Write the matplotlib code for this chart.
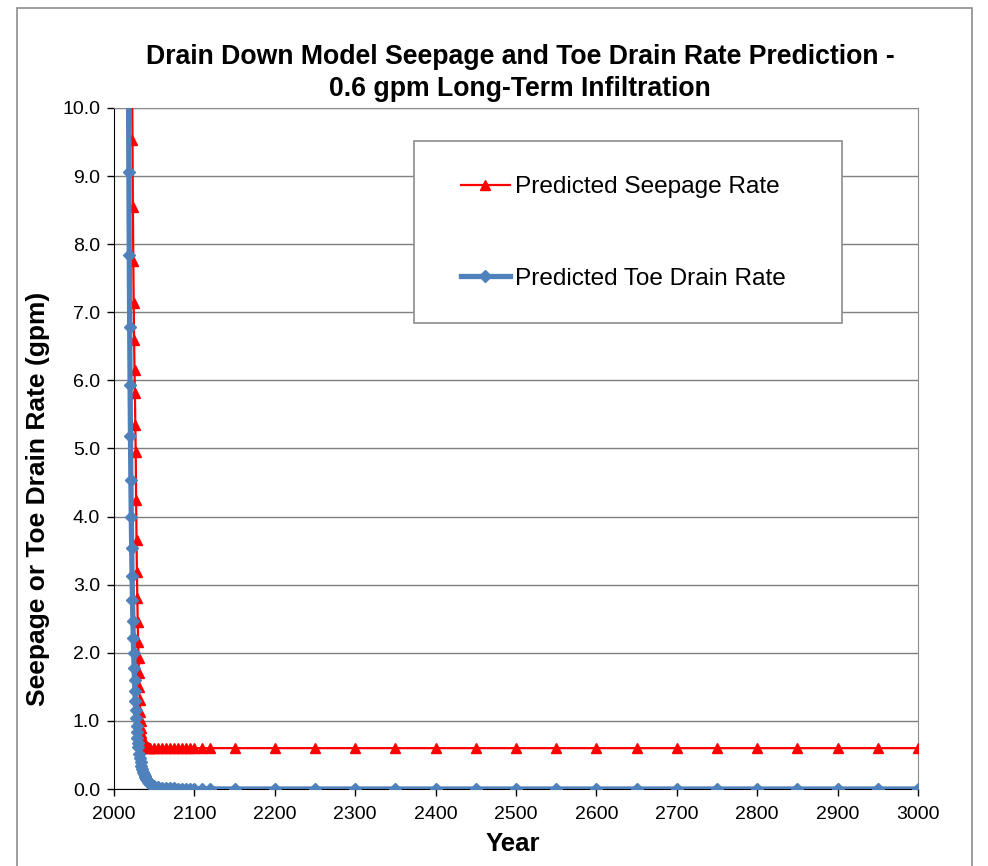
import numpy as np
import matplotlib
matplotlib.use("Agg")
import matplotlib.pyplot as plt
from matplotlib.patches import Rectangle
from matplotlib.ticker import MultipleLocator, FormatStrFormatter

plt.rcParams['font.family'] = ['Liberation Sans', 'DejaVu Sans']

# long-term tail shared by both series (every 50 years)
tail_years = [2150, 2200, 2250, 2300, 2350, 2400, 2450, 2500, 2550, 2600, 2650,
              2700, 2750, 2800, 2850, 2900, 2950, 3000]

# Predicted toe drain rate (gpm)
toe_years = [2018.0, 2018.5, 2019.0, 2019.5, 2020.0, 2020.5, 2021.0, 2021.5,
             2022.0, 2022.5, 2023.0, 2023.5, 2024.0, 2024.5, 2025.0, 2025.5,
             2026.0, 2026.5, 2027.0, 2027.5, 2028.0, 2028.5, 2029.0, 2029.5,
             2030, 2031, 2032, 2033, 2034, 2035, 2036, 2037, 2038, 2039, 2040,
             2041, 2042, 2043, 2044, 2045, 2050, 2055, 2060, 2065, 2070, 2075,
             2080, 2085, 2090, 2095, 2100, 2110, 2120] + tail_years
toe_rate = [10.47, 9.06, 7.84, 6.79, 5.93, 5.18, 4.54, 3.99,
            3.54, 3.13, 2.78, 2.47, 2.22, 2.00, 1.78, 1.60,
            1.44, 1.29, 1.16, 1.04, 0.93, 0.84, 0.75, 0.68,
            0.61, 0.52, 0.45, 0.39, 0.34, 0.29, 0.25, 0.22, 0.19, 0.17, 0.15,
            0.13, 0.11, 0.10, 0.09, 0.08, 0.05, 0.03, 0.02, 0.015, 0.01, 0.008,
            0.006, 0.005, 0.004, 0.003, 0.003, 0.002, 0.001] + [0.0] * len(tail_years)

# Predicted seepage rate (gpm)
seep_years = [2022.5, 2023.0, 2023.5, 2024.0, 2024.5, 2025.0, 2025.5, 2026.0,
              2026.5, 2027.0, 2027.5, 2028.0, 2028.5, 2029.0, 2029.5, 2030.0,
              2030.5, 2031.0, 2031.5, 2032.0, 2032.5, 2033.0, 2033.5, 2034.0,
              2034.5, 2035.0, 2035.5, 2036.0, 2037, 2038, 2039, 2040, 2041,
              2042, 2043, 2044, 2045, 2050, 2055, 2060, 2065, 2070, 2075, 2080,
              2085, 2090, 2095, 2100, 2110, 2120] + tail_years
seep_rate = [10.5, 9.53, 8.55, 7.75, 7.13, 6.59, 6.15, 5.82,
             5.35, 4.95, 4.24, 3.66, 3.19, 2.80, 2.45, 2.16,
             1.92, 1.70, 1.50, 1.31, 1.13, 1.00, 0.90, 0.82,
             0.76, 0.71, 0.68, 0.66, 0.64, 0.63, 0.62, 0.61, 0.61,
             0.61, 0.60, 0.60, 0.60, 0.60, 0.60, 0.60, 0.60, 0.60, 0.60, 0.60,
             0.60, 0.60, 0.60, 0.60, 0.60, 0.60] + [0.60] * len(tail_years)

W, H = 988, 866
fig = plt.figure(figsize=(W / 100, H / 100), dpi=100)

# outer chart border
fig.patches.append(Rectangle((17 / W, -0.05), (972 - 17) / W, 1.05 - 8 / H,
                             transform=fig.transFigure, fill=False,
                             edgecolor='#8c8c8c', lw=1.2))

ax = fig.add_axes([114 / W, 1 - 789 / H, (918 - 114) / W, (789 - 108) / H])

ax.plot(seep_years, seep_rate, color='#FF0000', lw=1.6, marker='^',
        markersize=7, label='Predicted Seepage Rate', zorder=3)
ax.plot(toe_years, toe_rate, color='#4F81BD', lw=3.8, marker='D',
        markersize=6.5, label='Predicted Toe Drain Rate', zorder=4)

ax.set_xlim(2000, 3000)
ax.set_ylim(0, 10)
ax.xaxis.set_major_locator(MultipleLocator(100))
ax.yaxis.set_major_locator(MultipleLocator(1.0))
ax.yaxis.set_major_formatter(FormatStrFormatter('%.1f'))
ax.grid(axis='y', color='#7f7f7f', lw=1.0)
ax.set_axisbelow(True)
ax.tick_params(axis='both', direction='out', length=5, width=1,
               labelsize=14, pad=5)
ax.tick_params(axis='x', pad=7)

for side in ['top', 'right']:
    ax.spines[side].set_color('#8c8c8c')
for side in ['left', 'bottom']:
    ax.spines[side].set_color('black')

ax.set_xlabel('Year', fontsize=18.5, fontweight='bold')
ax.set_ylabel('Seepage or Toe Drain Rate (gpm)', fontsize=19, fontweight='bold')
ax.xaxis.set_label_coords((513 - 114) / 804, (789 - 832) / 681)
ax.yaxis.set_label_coords((50 - 114) / 804, (789 - 499) / 681)

fig.text(520 / W, 1 - 73 / H,
         'Drain Down Model Seepage and Toe Drain Rate Prediction -\n0.6 gpm Long-Term Infiltration',
         ha='center', va='center', fontsize=19.2, fontweight='bold',
         linespacing=1.25)

# legend box + entries
ax.add_patch(Rectangle((414 / W, 1 - 323 / H), (842 - 414) / W, (323 - 141) / H,
                       transform=fig.transFigure, facecolor='white',
                       edgecolor='#8c8c8c', lw=1.2, zorder=5, clip_on=False))
leg = ax.legend(loc='center', bbox_to_anchor=(623 / W, 1 - 233 / H),
                bbox_transform=fig.transFigure, frameon=False, fontsize=17.6,
                handlelength=2.0, handletextpad=0.2, labelspacing=2.85,
                borderpad=0)
leg.set_zorder(6)

fig.savefig('out.png', dpi=100)
